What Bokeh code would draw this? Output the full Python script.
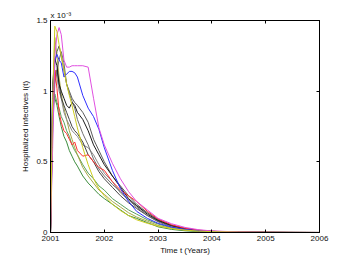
from bokeh.plotting import figure
from bokeh.models import LinearAxis, FixedTicker, Range1d
from bokeh.embed import file_html
from bokeh.resources import INLINE

# time grid (years)
t = [2001.00, 2001.04, 2001.08, 2001.12, 2001.16, 2001.20, 2001.25, 2001.30, 2001.35,
     2001.40, 2001.45, 2001.50, 2001.60, 2001.70, 2001.80, 2001.90, 2002.00, 2002.15,
     2002.30, 2002.45, 2002.60, 2002.80, 2003.00, 2003.25, 2003.50, 2003.75, 2004.00,
     2004.50, 2005.00, 2005.50, 2006.00]

# hospitalized infectives, in units of 1e-3
yellow = [0, 0.95, 1.46, 1.42, 1.33, 1.25, 1.15, 1.05, 0.97, 0.90, 0.82, 0.74, 0.60, 0.48, 0.38,
          0.31, 0.26, 0.20, 0.155, 0.12, 0.09, 0.065, 0.045, 0.028, 0.017, 0.010, 0.006, 0.003,
          0.0015, 0.0008, 0.0003]
magenta = [0, 0.60, 1.25, 1.40, 1.45, 1.40, 1.22, 1.17, 1.17, 1.18, 1.18, 1.18, 1.18, 1.17, 0.95,
           0.74, 0.62, 0.49, 0.38, 0.29, 0.22, 0.16, 0.10, 0.062, 0.036, 0.020, 0.011, 0.004,
           0.0015, 0.0006, 0.0002]
blue = [0, 1.00, 1.22, 1.26, 1.22, 1.20, 1.10, 1.12, 1.14, 1.14, 1.13, 1.10, 0.97, 0.88, 0.82,
        0.73, 0.60, 0.44, 0.31, 0.22, 0.15, 0.10, 0.065, 0.038, 0.022, 0.012, 0.007, 0.003,
        0.001, 0.0005, 0.0002]
red = [0, 0.90, 1.15, 1.02, 0.85, 0.78, 0.72, 0.70, 0.66, 0.62, 0.64, 0.58, 0.54, 0.55, 0.50,
       0.46, 0.44, 0.36, 0.30, 0.26, 0.22, 0.15, 0.095, 0.055, 0.03, 0.017, 0.009, 0.004,
       0.0015, 0.0006, 0.0002]
gray1 = [0, 0.80, 1.20, 1.28, 1.32, 1.25, 1.15, 1.05, 1.00, 0.95, 0.92, 0.90, 0.85, 0.78, 0.66,
         0.58, 0.50, 0.40, 0.33, 0.26, 0.20, 0.14, 0.09, 0.05, 0.028, 0.015, 0.008, 0.003,
         0.001, 0.0004, 0.0001]
black1 = [0, 1.05, 1.23, 1.18, 1.05, 1.00, 0.95, 0.90, 0.88, 0.92, 0.90, 0.85, 0.80, 0.72, 0.62,
          0.55, 0.48, 0.40, 0.32, 0.24, 0.19, 0.13, 0.085, 0.05, 0.028, 0.015, 0.008, 0.003,
          0.001, 0.0004, 0.0001]
gray2 = [0, 0.90, 1.15, 1.10, 1.00, 0.95, 0.85, 0.80, 0.76, 0.72, 0.70, 0.68, 0.62, 0.60, 0.55,
         0.48, 0.42, 0.36, 0.28, 0.23, 0.19, 0.14, 0.09, 0.05, 0.028, 0.015, 0.008, 0.003,
         0.001, 0.0004, 0.0001]
black2 = [0, 0.85, 1.10, 1.15, 1.05, 0.95, 0.90, 0.85, 0.80, 0.75, 0.72, 0.70, 0.64, 0.55, 0.50,
          0.43, 0.38, 0.32, 0.26, 0.21, 0.17, 0.12, 0.08, 0.045, 0.025, 0.013, 0.007, 0.0025,
          0.001, 0.0004, 0.0001]
gray3 = [0, 0.70, 1.05, 1.15, 1.22, 1.28, 1.20, 1.05, 0.98, 0.93, 0.88, 0.80, 0.70, 0.62, 0.52,
         0.45, 0.40, 0.34, 0.29, 0.23, 0.18, 0.12, 0.075, 0.04, 0.022, 0.012, 0.006, 0.002,
         0.0008, 0.0003, 0.0001]
green1 = [0, 0.98, 0.95, 0.90, 0.82, 0.75, 0.68, 0.64, 0.58, 0.54, 0.50, 0.47, 0.40, 0.35, 0.31,
          0.27, 0.24, 0.20, 0.16, 0.12, 0.10, 0.07, 0.04, 0.022, 0.012, 0.006, 0.003, 0.001,
          0.0004, 0.0001, 0.0]
green2 = [0, 0.85, 0.98, 0.92, 0.88, 0.82, 0.78, 0.72, 0.68, 0.62, 0.58, 0.55, 0.48, 0.42, 0.38,
          0.33, 0.30, 0.24, 0.20, 0.16, 0.13, 0.09, 0.06, 0.033, 0.018, 0.01, 0.005, 0.002,
          0.0007, 0.0002, 0.0]
olive = [0, 0.90, 1.38, 1.25, 1.10, 0.98, 0.88, 0.80, 0.72, 0.66, 0.60, 0.55, 0.46, 0.40, 0.35,
         0.30, 0.27, 0.22, 0.18, 0.14, 0.11, 0.08, 0.05, 0.03, 0.017, 0.009, 0.005, 0.002,
         0.0008, 0.0003, 0.0]

series = [
    (green1, "#3c8c3c"), (green2, "#5aa05a"), (olive, "#a8a848"), (gray2, "#8a8a8a"),
    (black2, "#444444"), (gray3, "#707070"), (gray1, "#5a5a5a"), (black1, "#1a1a1a"),
    (red, "#ff3030"), (blue, "#3030ff"), (magenta, "#e050e0"), (yellow, "#cccc20"),
]

x_ticks = [2001, 2002, 2003, 2004, 2005, 2006]
y_ticks = [0, 0.5, 1, 1.5]
y_tick_labels = ["0", "0.5", "1", "1.5"]
scale_text = "x 10\u207b\u00b3"

FONT = "Liberation Sans"

p = figure(width=343, height=258, output_backend="svg", toolbar_location=None,
           x_range=Range1d(2001, 2006), y_range=Range1d(0, 1.5),
           min_border_left=50, min_border_right=24, min_border_top=20, min_border_bottom=26)
p.xgrid.visible = False
p.ygrid.visible = False
p.outline_line_color = "black"
p.outline_line_width = 1
p.background_fill_color = "white"
p.border_fill_color = "white"

p.title.text = scale_text
p.title.align = "left"
p.title.text_font = FONT
p.title.text_font_size = "8px"
p.title.text_font_style = "normal"
p.title.text_color = "#111111"
p.title.standoff = 2
p.title.offset = 0

for ys, c in series:
    p.line(t, ys, line_color=c, line_width=1)

for ax in (p.xaxis[0], p.yaxis[0]):
    ax.major_tick_in = 3
    ax.major_tick_out = 0
    ax.minor_tick_line_color = None
    ax.axis_line_color = "black"
    ax.major_tick_line_color = "black"
    ax.major_label_text_font = FONT
    ax.major_label_text_font_size = "8px"
    ax.major_label_text_color = "#111111"
    ax.axis_label_text_font = FONT
    ax.axis_label_text_font_size = "8px"
    ax.axis_label_text_font_style = "normal"
    ax.axis_label_text_color = "#111111"

p.xaxis[0].ticker = FixedTicker(ticks=x_ticks)
p.yaxis[0].ticker = FixedTicker(ticks=y_ticks)
p.yaxis[0].major_label_overrides = dict(zip(y_ticks, y_tick_labels))
p.xaxis[0].axis_label = "Time t (Years)"
p.yaxis[0].axis_label = "Hospitalized infectives I(t)"
p.xaxis[0].major_label_standoff = 3
p.yaxis[0].major_label_standoff = 3
p.xaxis[0].axis_label_standoff = 2
p.yaxis[0].axis_label_standoff = 3

top = LinearAxis(ticker=FixedTicker(ticks=x_ticks),
                 major_label_overrides={k: "" for k in x_ticks},
                 major_label_standoff=0,
                 major_tick_in=3, major_tick_out=0, minor_tick_line_color=None,
                 axis_line_color="black")
right = LinearAxis(ticker=FixedTicker(ticks=y_ticks),
                   major_label_overrides={k: "" for k in y_ticks},
                   major_label_standoff=0,
                   major_tick_in=3, major_tick_out=0, minor_tick_line_color=None,
                   axis_line_color="black")
p.add_layout(top, "above")
p.add_layout(right, "right")

open("out.html", "w").write(file_html(p, INLINE))
